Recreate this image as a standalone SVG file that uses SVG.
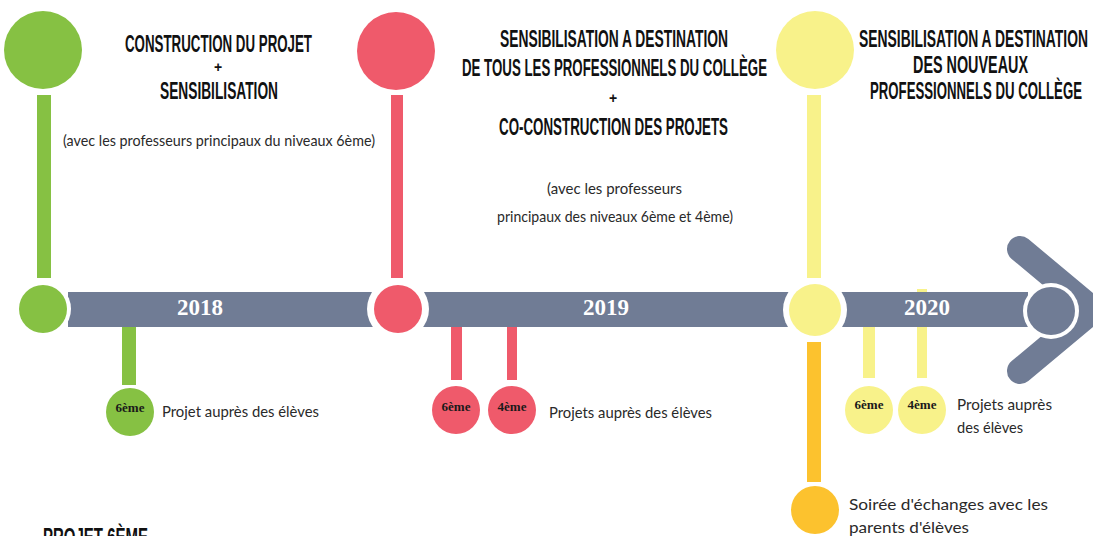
<svg xmlns="http://www.w3.org/2000/svg" width="1093" height="536" viewBox="0 0 1093 536">
<style>
.hd{font-family:"Liberation Sans Narrow","Liberation Sans",Arial,sans-serif;font-weight:bold;font-size:24px;fill:#111;}
.plus{font-family:"Liberation Sans",Arial,sans-serif;font-weight:bold;font-size:14px;fill:#111;text-anchor:middle;}
.hw{font-family:Lato,"Open Sans",sans-serif;font-size:15px;fill:#2a2a2a;}
.yr{font-family:"Liberation Serif","Times New Roman",serif;font-weight:bold;font-size:23px;fill:#fff;text-anchor:middle;}
.lv{font-family:"Liberation Serif","Times New Roman",serif;font-weight:bold;font-size:13px;fill:#1a1a1a;text-anchor:middle;}
.g{fill:#86c143}.r{fill:#ef5a6b}.y{fill:#f8f28a}.o{fill:#fcc22e}.gr{fill:#707c95}
.ring{fill:#fff}
</style>
<rect width="1093" height="536" fill="#fff"/>
<g id="connectors">
  <rect class="gr" x="68" y="292" width="960" height="35"/>
  <polyline points="1020,249 1093,310 1020,371" fill="none" stroke="#707c95" stroke-width="26" stroke-linecap="round" stroke-linejoin="miter"/>
  <rect class="g" x="37" y="95" width="14" height="183"/>
  <rect class="r" x="391" y="95" width="12" height="183"/>
  <rect class="y" x="807" y="95" width="14" height="183"/>
  <rect class="g" x="122" y="327" width="14" height="58"/>
  <rect class="r" x="451" y="327" width="11" height="53"/>
  <rect class="r" x="507" y="327" width="10" height="53"/>
  <rect class="y" x="863" y="327" width="12" height="51"/>
  <rect class="y" x="917" y="327" width="10" height="51"/>
  <rect class="y" x="917" y="289" width="10" height="3"/>
  <rect class="o" x="807" y="342" width="14" height="140"/>
</g>
<g id="node-2018">
  <circle class="g" cx="43" cy="50" r="39"/>
  <circle class="ring" cx="43" cy="309" r="28"/>
  <circle class="g" cx="43" cy="309" r="24"/>
  <text class="hd" x="125" y="52" textLength="187" lengthAdjust="spacingAndGlyphs">CONSTRUCTION DU PROJET</text>
  <text class="plus" x="218" y="72">+</text>
  <text class="hd" x="160" y="99" textLength="118" lengthAdjust="spacingAndGlyphs">SENSIBILISATION</text>
  <text class="hw" x="63" y="146" textLength="312" lengthAdjust="spacingAndGlyphs">(avec les professeurs principaux du niveaux 6ème)</text>
  <text class="yr" x="200" y="315">2018</text>
</g>
<g id="node-2018-6eme">
  <circle class="g" cx="130" cy="412" r="24"/>
  <text class="lv" x="130" y="412">6ème</text>
  <text class="hw" x="162" y="417" textLength="157" lengthAdjust="spacingAndGlyphs">Projet auprès des élèves</text>
</g>
<g id="node-2019">
  <circle class="r" cx="396" cy="51" r="39"/>
  <circle class="ring" cx="398" cy="309" r="31"/>
  <circle class="r" cx="398" cy="309" r="24"/>
  <text class="hd" x="500" y="47" textLength="228" lengthAdjust="spacingAndGlyphs">SENSIBILISATION A DESTINATION</text>
  <text class="hd" x="462" y="76" textLength="305" lengthAdjust="spacingAndGlyphs">DE TOUS LES PROFESSIONNELS DU COLLÈGE</text>
  <text class="plus" x="613" y="103">+</text>
  <text class="hd" x="499" y="135" textLength="229" lengthAdjust="spacingAndGlyphs">CO-CONSTRUCTION DES PROJETS</text>
  <text class="hw" x="547" y="194" textLength="135" lengthAdjust="spacingAndGlyphs">(avec les professeurs</text>
  <text class="hw" x="497" y="222" textLength="236" lengthAdjust="spacingAndGlyphs">principaux des niveaux 6ème et 4ème)</text>
  <text class="yr" x="606" y="315">2019</text>
</g>
<g id="node-2019-levels">
  <circle class="r" cx="456" cy="410" r="24"/>
  <text class="lv" x="456" y="411">6ème</text>
  <circle class="r" cx="512" cy="410" r="24"/>
  <text class="lv" x="512" y="411">4ème</text>
  <text class="hw" x="549" y="418" textLength="163" lengthAdjust="spacingAndGlyphs">Projets auprès des élèves</text>
</g>
<g id="node-2020">
  <circle class="y" cx="815" cy="50" r="39"/>
  <circle class="ring" cx="815" cy="310" r="32"/>
  <circle class="y" cx="815" cy="310" r="26"/>
  <text class="hd" x="859" y="47" textLength="229" lengthAdjust="spacingAndGlyphs">SENSIBILISATION A DESTINATION</text>
  <text class="hd" x="913" y="73" textLength="115" lengthAdjust="spacingAndGlyphs">DES NOUVEAUX</text>
  <text class="hd" x="870" y="99" textLength="212" lengthAdjust="spacingAndGlyphs">PROFESSIONNELS DU COLLÈGE</text>
  <text class="yr" x="927" y="315">2020</text>
</g>
<g id="node-2020-levels">
  <circle class="y" cx="869" cy="410" r="24"/>
  <text class="lv" x="869" y="409">6ème</text>
  <circle class="y" cx="922" cy="410" r="24"/>
  <text class="lv" x="922" y="409">4ème</text>
  <text class="hw" x="957" y="410" textLength="95" lengthAdjust="spacingAndGlyphs">Projets auprès</text>
  <text class="hw" x="957" y="433" textLength="66" lengthAdjust="spacingAndGlyphs">des élèves</text>
</g>
<g id="node-parents">
  <circle class="o" cx="815" cy="510" r="24"/>
  <text class="hw" x="849" y="510" textLength="199" lengthAdjust="spacingAndGlyphs">Soirée d'échanges avec les</text>
  <text class="hw" x="849" y="533" textLength="120" lengthAdjust="spacingAndGlyphs">parents d'élèves</text>
</g>
<g id="node-end">
  <circle class="ring" cx="1051" cy="311" r="28"/>
  <circle class="gr" cx="1051" cy="311" r="24"/>
</g>
<g id="node-footer">
  <text class="hd" x="43" y="545" textLength="105" lengthAdjust="spacingAndGlyphs">PROJET 6ÈME</text>
</g>
</svg>
